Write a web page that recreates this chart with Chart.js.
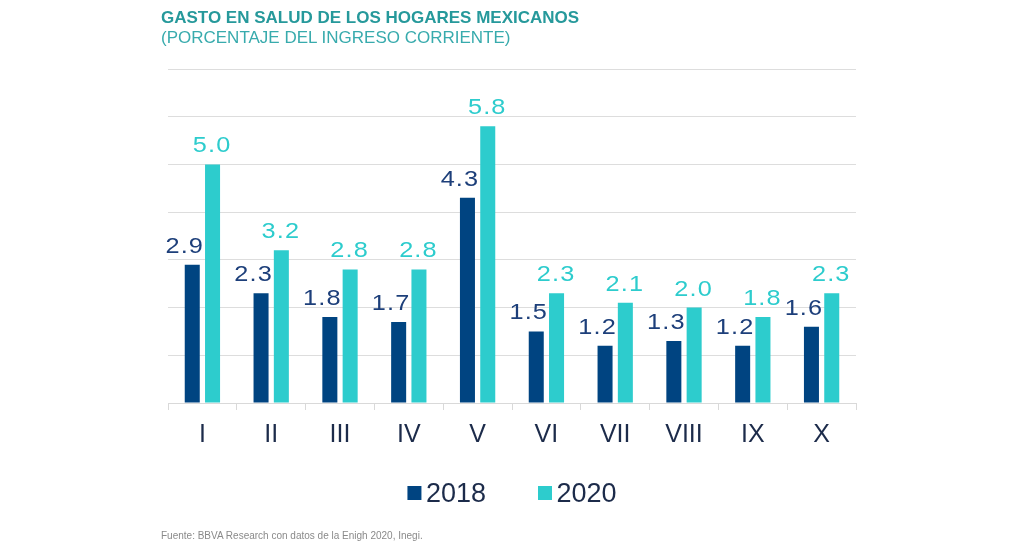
<!DOCTYPE html>
<html>
<head>
<meta charset="utf-8">
<script src="https://cdn.jsdelivr.net/npm/chart.js@4.4.0/dist/chart.umd.min.js"></script>
<style>
  body { margin: 0; background: #fff; }
  #wrap { position: relative; width: 1024px; height: 549px; font-family: "Liberation Sans", Arial, sans-serif; }
  #chart { position: absolute; left: 0; top: 0; }
  .head { position: absolute; left: 161px; top: 8px; font-size: 17px; line-height: 20px; }
  .head b { color: #26999b; display: block; }
  .head span { color: #38abad; display: block; }
  .fuente { position: absolute; left: 161px; top: 530px; font-size: 10px; color: #8a8a8a; }
</style>
</head>
<body>
<div id="wrap">
  <canvas id="chart" width="1024" height="549"></canvas>
  <div class="head"><b>GASTO EN SALUD DE LOS HOGARES MEXICANOS</b><span>(PORCENTAJE DEL INGRESO CORRIENTE)</span></div>
  <div class="fuente">Fuente: BBVA Research con datos de la Enigh 2020, Inegi.</div>
</div>
<script>
// deciles de ingreso
const deciles = ["I", "II", "III", "IV", "V", "VI", "VII", "VIII", "IX", "X"];
const gasto2018 = [2.9, 2.3, 1.8, 1.7, 4.3, 1.5, 1.2, 1.3, 1.2, 1.6];
const gasto2020 = [5.0, 3.2, 2.8, 2.8, 5.8, 2.3, 2.1, 2.0, 1.8, 2.3];
const years = ["2018", "2020"];

const barColors = ["#004481", "#2dcccd"];
const labelColors = ["#1d3f7a", "#2dcccd"];
const labelShift = [-8, -1];

// value labels above each bar (no datalabels plugin offline)
const valueLabels = {
  id: "valueLabels",
  afterDatasetsDraw(chart) {
    const ctx = chart.ctx;
    chart.data.datasets.forEach((ds, i) => {
      chart.getDatasetMeta(i).data.forEach((bar, j) => {
        ctx.save();
        ctx.font = '22px "Liberation Sans", Arial, sans-serif';
        ctx.letterSpacing = "1px";
        ctx.fillStyle = labelColors[i];
        ctx.textAlign = "center";
        ctx.textBaseline = "alphabetic";
        ctx.translate(bar.x + labelShift[i] + 0.5, bar.y - 12);
        ctx.scale(1.15, 1);
        ctx.fillText(ds.data[j].toFixed(1), 0, 0);
        ctx.restore();
      });
    });
  }
};

// legend drawn by hand so the box/text gap matches
const bottomLegend = {
  id: "bottomLegend",
  afterDraw(chart) {
    const ctx = chart.ctx;
    const box = 14, gap = 4.5, itemGap = 52, y = 486;
    ctx.save();
    ctx.font = '27px "Liberation Sans", Arial, sans-serif';
    ctx.textBaseline = "alphabetic";
    let total = 0;
    const widths = chart.data.datasets.map(ds => ctx.measureText(ds.label).width);
    widths.forEach((w, i) => { total += box + gap + w + (i ? itemGap : 0); });
    let x = (chart.chartArea.left + chart.chartArea.right) / 2 - total / 2;
    chart.data.datasets.forEach((ds, i) => {
      ctx.fillStyle = ds.backgroundColor;
      ctx.fillRect(x, y, box, box);
      ctx.fillStyle = "#1c2b4a";
      ctx.fillText(ds.label, x + box + gap, y + 15.5);
      x += box + gap + widths[i] + itemGap;
    });
    ctx.restore();
  }
};

new Chart(document.getElementById("chart"), {
  type: "bar",
  data: {
    labels: deciles,
    datasets: [
      { label: years[0], data: gasto2018, backgroundColor: barColors[0] },
      { label: years[1], data: gasto2020, backgroundColor: barColors[1] }
    ]
  },
  options: {
    responsive: false,
    animation: false,
    layout: { padding: { left: 168, right: 168, top: 69, bottom: 89 } },
    datasets: { bar: { categoryPercentage: 0.59, barPercentage: 0.74 } },
    plugins: {
      legend: { display: false },
      tooltip: { enabled: false }
    },
    scales: {
      x: {
        grid: { offset: true, drawOnChartArea: false, tickLength: 7, color: "#d9d9d9" },
        border: { color: "#d9d9d9" },
        ticks: { color: "#1c2b4a", padding: 10, font: { family: "'Liberation Sans', Arial, sans-serif", size: 25 } }
      },
      y: {
        min: 0,
        max: 7,
        ticks: { display: false, stepSize: 1 },
        grid: { color: "#dddddd", drawTicks: false },
        border: { display: false }
      }
    }
  },
  plugins: [valueLabels, bottomLegend]
});
</script>
</body>
</html>
